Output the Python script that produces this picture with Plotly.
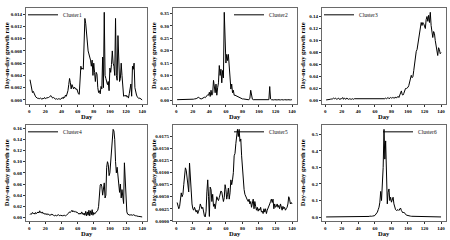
import plotly.graph_objects as go

days = list(range(1, 141))

cluster1 = [
    0.0033, 0.0025, 0.0015, 0.0012, 0.0014, 0.0012, 0.0008, 0.0005, 0.0003, 0.0003,
    0.0002, 0.0003, 0.0002, 0.0003, 0.0002, 0.0001, 0.0003, 0.0002, 0.0004, 0.0002,
    0.0003, 0.0003, 0.0004, 0.0004, 0.0005, 0.0006, 0.0007, 0.0005, 0.0003, 0.0004,
    0.0002, 0.0002, 0.0001, 0.0002, 0.0001, 0.0002, 0.0001, 0.0002, 0.0001, 0.0003,
    0.0004, 0.0002, 0.0005, 0.0004, 0.0008, 0.0006, 0.0010, 0.0015, 0.0025, 0.0035,
    0.0028, 0.0018, 0.0025, 0.0022, 0.0018, 0.0021, 0.0019, 0.0017, 0.0018, 0.0013,
    0.0010, 0.0009, 0.0030, 0.0055, 0.0050, 0.0052, 0.0050, 0.0095, 0.0133, 0.0125,
    0.0105, 0.0090, 0.0080, 0.0075, 0.0070, 0.0065, 0.0055, 0.0065, 0.0040, 0.0060,
    0.0045, 0.0030, 0.0045, 0.0042, 0.0020, 0.0012, 0.0015, 0.0010, 0.0022, 0.0018,
    0.0070, 0.0020, 0.0143, 0.0040, 0.0035, 0.0030, 0.0025, 0.0030, 0.0015, 0.0052,
    0.0045, 0.0058, 0.0080, 0.0060, 0.0055, 0.0040, 0.0133, 0.0040, 0.0032, 0.0105,
    0.0050, 0.0030, 0.0035, 0.0060, 0.0040, 0.0012, 0.0006, 0.0007, 0.0006, 0.0008,
    0.0005, 0.0006, 0.0003, 0.0010, 0.0018, 0.0026, 0.0006, 0.0055, 0.0050, 0.0060,
    0.0020, 0.0012, 0.0008, 0.0005, 0.0004, 0.0002, 0.0003, 0.0002, 0.0001, 0.0000,
]

cluster2 = [
    0.002, 0.002, 0.001, 0.002, 0.002, 0.001, 0.002, 0.001, 0.002, 0.001,
    0.001, 0.002, 0.001, 0.001, 0.002, 0.001, 0.002, 0.001, 0.002, 0.003,
    0.004, 0.005, 0.004, 0.006, 0.008, 0.010, 0.012, 0.008, 0.006, 0.005,
    0.006, 0.008, 0.010, 0.012, 0.010, 0.015, 0.018, 0.022, 0.020, 0.032,
    0.015, 0.040, 0.020, 0.028, 0.080, 0.040, 0.030, 0.065, 0.020, 0.050,
    0.070, 0.140, 0.100, 0.125, 0.070, 0.120, 0.090, 0.355, 0.200, 0.150,
    0.185, 0.160, 0.185, 0.130, 0.070, 0.045, 0.065, 0.030, 0.040, 0.020,
    0.020, 0.018, 0.016, 0.015, 0.012, 0.010, 0.010, 0.008, 0.006, 0.005,
    0.005, 0.004, 0.003, 0.003, 0.002, 0.002, 0.002, 0.002, 0.008, 0.040,
    0.015, 0.004, 0.002, 0.002, 0.001, 0.002, 0.001, 0.002, 0.001, 0.002,
    0.001, 0.002, 0.001, 0.002, 0.001, 0.002, 0.001, 0.002, 0.001, 0.002,
    0.001, 0.002, 0.055, 0.005, 0.002, 0.001, 0.002, 0.001, 0.002, 0.001,
    0.002, 0.001, 0.002, 0.001, 0.002, 0.001, 0.002, 0.001, 0.002, 0.001,
    0.002, 0.001, 0.002, 0.001, 0.002, 0.001, 0.002, 0.001, 0.002, 0.001,
]

cluster3 = [
    0.001, 0.001, 0.002, 0.002, 0.001, 0.002, 0.003, 0.002, 0.003, 0.004,
    0.003, 0.004, 0.003, 0.002, 0.003, 0.004, 0.002, 0.003, 0.002, 0.003,
    0.005, 0.002, 0.004, 0.003, 0.002, 0.004, 0.003, 0.002, 0.003, 0.002,
    0.003, 0.002, 0.003, 0.002, 0.003, 0.003, 0.002, 0.003, 0.002, 0.003,
    0.002, 0.003, 0.002, 0.002, 0.003, 0.003, 0.002, 0.003, 0.002, 0.003,
    0.002, 0.003, 0.002, 0.003, 0.002, 0.003, 0.003, 0.002, 0.003, 0.002,
    0.002, 0.003, 0.002, 0.003, 0.002, 0.002, 0.003, 0.002, 0.003, 0.003,
    0.002, 0.003, 0.004, 0.003, 0.004, 0.005, 0.003, 0.004, 0.005, 0.004,
    0.005, 0.004, 0.005, 0.004, 0.006, 0.004, 0.005, 0.007, 0.005, 0.009,
    0.012, 0.016, 0.010, 0.009, 0.012, 0.018, 0.020, 0.020, 0.021, 0.022,
    0.025, 0.030, 0.035, 0.042, 0.038, 0.040, 0.050, 0.065, 0.080, 0.082,
    0.085, 0.095, 0.100, 0.110, 0.125, 0.130, 0.125, 0.130, 0.128, 0.122,
    0.120, 0.135, 0.140, 0.132, 0.142, 0.130, 0.147, 0.125, 0.110, 0.105,
    0.115, 0.112, 0.100, 0.092, 0.085, 0.075, 0.088, 0.085, 0.078, 0.080,
]

cluster4 = [
    0.005, 0.007, 0.006, 0.009, 0.007, 0.008, 0.006, 0.009, 0.007, 0.008,
    0.010, 0.008, 0.012, 0.009, 0.008, 0.010, 0.007, 0.008, 0.006, 0.007,
    0.005, 0.007, 0.005, 0.006, 0.004, 0.005, 0.004, 0.006, 0.004, 0.004,
    0.003, 0.004, 0.004, 0.003, 0.004, 0.005, 0.004, 0.003, 0.004, 0.003,
    0.003, 0.004, 0.003, 0.004, 0.003, 0.004, 0.005, 0.006, 0.008, 0.010,
    0.009, 0.011, 0.013, 0.010, 0.012, 0.010, 0.011, 0.009, 0.010, 0.008,
    0.007, 0.006, 0.008, 0.006, 0.010, 0.007, 0.005, 0.008, 0.004, 0.011,
    0.003, 0.010, 0.004, 0.013, 0.003, 0.012, 0.005, 0.014, 0.004, 0.009,
    0.006, 0.008, 0.010, 0.012, 0.013, 0.020, 0.040, 0.058, 0.060, 0.055,
    0.040, 0.060, 0.062, 0.035, 0.040, 0.090, 0.100, 0.095, 0.075, 0.080,
    0.100, 0.120, 0.150, 0.158, 0.155, 0.140, 0.100, 0.080, 0.090, 0.070,
    0.065, 0.045, 0.060, 0.035, 0.050, 0.030, 0.025, 0.098, 0.060, 0.020,
    0.010, 0.006, 0.005, 0.005, 0.004, 0.005, 0.004, 0.004, 0.005, 0.004,
    0.003, 0.003, 0.003, 0.002, 0.002, 0.002, 0.002, 0.001, 0.001, 0.001,
]

cluster5 = [
    0.0038, 0.0028, 0.0025, 0.0030, 0.0045, 0.0058, 0.0050, 0.0055, 0.0075, 0.0090,
    0.0110, 0.0105, 0.0090, 0.0065, 0.0060, 0.0120, 0.0085, 0.0050, 0.0035, 0.0025,
    0.0022, 0.0028, 0.0020, 0.0018, 0.0022, 0.0015, 0.0020, 0.0025, 0.0035, 0.0030,
    0.0025, 0.0028, 0.0015, 0.0010, 0.0008, 0.0020, 0.0060, 0.0085, 0.0050, 0.0009,
    0.0070, 0.0065, 0.0040, 0.0055, 0.0030, 0.0035, 0.0025, 0.0040, 0.0050, 0.0045,
    0.0042, 0.0048, 0.0055, 0.0062, 0.0060, 0.0045, 0.0040, 0.0048, 0.0075, 0.0065,
    0.0045, 0.0055, 0.0068, 0.0045, 0.0058, 0.0085, 0.0075, 0.0085, 0.0100, 0.0135,
    0.0140, 0.0160, 0.0185, 0.0190, 0.0175, 0.0190, 0.0165, 0.0170, 0.0135, 0.0105,
    0.0085, 0.0065, 0.0055, 0.0050, 0.0045, 0.0043, 0.0040, 0.0045, 0.0035, 0.0040,
    0.0028, 0.0035, 0.0045, 0.0025, 0.0040, 0.0030, 0.0022, 0.0028, 0.0020, 0.0025,
    0.0022, 0.0028, 0.0018, 0.0020, 0.0015, 0.0025, 0.0018, 0.0025, 0.0015, 0.0022,
    0.0028, 0.0030, 0.0035, 0.0040, 0.0045, 0.0038, 0.0045, 0.0025, 0.0035, 0.0028,
    0.0030, 0.0035, 0.0028, 0.0032, 0.0025, 0.0035, 0.0030, 0.0022, 0.0030, 0.0025,
    0.0028, 0.0022, 0.0025, 0.0028, 0.0035, 0.0050, 0.0045, 0.0035, 0.0038, 0.0035,
]

cluster6 = [
    0.001, 0.001, 0.002, 0.001, 0.001, 0.002, 0.001, 0.001, 0.002, 0.001,
    0.001, 0.002, 0.001, 0.001, 0.001, 0.002, 0.001, 0.001, 0.002, 0.001,
    0.001, 0.002, 0.001, 0.001, 0.002, 0.001, 0.001, 0.002, 0.001, 0.001,
    0.002, 0.001, 0.002, 0.001, 0.001, 0.002, 0.001, 0.002, 0.001, 0.002,
    0.002, 0.001, 0.002, 0.003, 0.002, 0.002, 0.003, 0.002, 0.004, 0.003,
    0.005, 0.003, 0.004, 0.006, 0.004, 0.005, 0.006, 0.005, 0.008, 0.010,
    0.015, 0.020, 0.030, 0.045, 0.060, 0.090, 0.155, 0.100, 0.170, 0.300,
    0.530, 0.350, 0.460, 0.300, 0.080, 0.150, 0.170, 0.100, 0.120, 0.090,
    0.110, 0.120, 0.080, 0.050, 0.045, 0.040, 0.042, 0.045, 0.040, 0.050,
    0.055, 0.040, 0.035, 0.025, 0.030, 0.020, 0.018, 0.012, 0.010, 0.008,
    0.008, 0.006, 0.006, 0.005, 0.005, 0.004, 0.004, 0.003, 0.004, 0.003,
    0.003, 0.002, 0.003, 0.002, 0.003, 0.002, 0.002, 0.003, 0.002, 0.002,
    0.002, 0.002, 0.001, 0.002, 0.002, 0.001, 0.002, 0.002, 0.001, 0.002,
    0.001, 0.002, 0.001, 0.001, 0.002, 0.001, 0.001, 0.002, 0.001, 0.001,
]

names = ["Cluster1", "Cluster2", "Cluster3", "Cluster4", "Cluster5", "Cluster6"]
series = [cluster1, cluster2, cluster3, cluster4, cluster5, cluster6]
y_dticks = [0.002, 0.05, 0.02, 0.02, 0.0025, 0.1]
y_formats = [".3f", ".2f", ".2f", ".2f", ".4f", ".1f"]
legend_side = ["left", "right", "left", "left", "right", "right"]
x_ticks = [0, 20, 40, 60, 80, 100, 120, 140]
x_title = "Day"
y_title = "Day-on-day growth rate"

W, H = 450, 240
# panel boxes in pixels: (left, right, top, bottom)
cols = [(26, 147), (173, 297), (322, 446)]
rows = [(4, 102), (123, 221)]

FONT = "Liberation Serif"
fig = go.Figure()
annotations = []
layout = {}

for i, (name, ys) in enumerate(zip(names, series)):
    r, c = divmod(i, 3)
    l, rr = cols[c]
    t, b = rows[r]
    k = "" if i == 0 else str(i + 1)
    leg = "legend" if i == 0 else f"legend{i + 1}"
    fig.add_trace(go.Scatter(
        x=days, y=ys, mode="lines", name=name,
        line=dict(color="black", width=1),
        xaxis=f"x{k}", yaxis=f"y{k}", legend=leg, showlegend=True,
    ))
    ymin, ymax = min(ys), max(ys)
    pad = 0.05 * (ymax - ymin)
    common = dict(
        showline=True, mirror=True, linecolor="#6a6a6a", linewidth=1,
        showgrid=False, zeroline=False, ticks="outside", ticklen=2,
        tickwidth=0.8, tickcolor="#333",
        tickfont=dict(family=FONT, size=5, color="black", weight="bold"),
        automargin=False,
    )
    layout[f"xaxis{k}"] = dict(
        common, domain=[l / W, rr / W], anchor=f"y{k}",
        range=[-4, 146], tickvals=x_ticks,
    )
    layout[f"yaxis{k}"] = dict(
        common, domain=[1 - b / H, 1 - t / H], anchor=f"x{k}",
        range=[ymin - pad, ymax + pad], dtick=y_dticks[i], tick0=0,
        tickformat=y_formats[i],
    )
    if legend_side[i] == "left":
        lx, xa = (l - 3) / W, "left"
    else:
        lx, xa = (rr - 4) / W, "right"
    layout[leg] = dict(
        x=lx, y=1 - (t + 7) / H, xanchor=xa, yanchor="middle",
        bgcolor="rgba(0,0,0,0)", borderwidth=0,
        font=dict(family=FONT, size=5.5, color="#111"),
        tracegroupgap=0,
    )
    annotations.append(dict(
        text=y_title, xref="paper", yref="paper",
        x=(l - 20) / W, y=1 - (t + b) / 2 / H, textangle=-90,
        showarrow=False, xanchor="center", yanchor="middle",
        font=dict(family=FONT, size=6.5, color="black", weight="bold"),
    ))
    annotations.append(dict(
        text=x_title, xref="paper", yref="paper",
        x=(l + rr) / 2 / W, y=1 - (b + 12.5) / H,
        showarrow=False, xanchor="center", yanchor="middle",
        font=dict(family=FONT, size=6.5, color="black", weight="bold"),
    ))

fig.update_layout(
    template="none",
    width=W, height=H,
    margin=dict(l=0, r=0, t=0, b=0),
    paper_bgcolor="white", plot_bgcolor="white",
    annotations=annotations,
    **layout,
)

fig.write_html(
    "out.html",
    config={"displayModeBar": False},
    post_script="document.body.style.margin='0';document.body.style.overflow='hidden';",
)
